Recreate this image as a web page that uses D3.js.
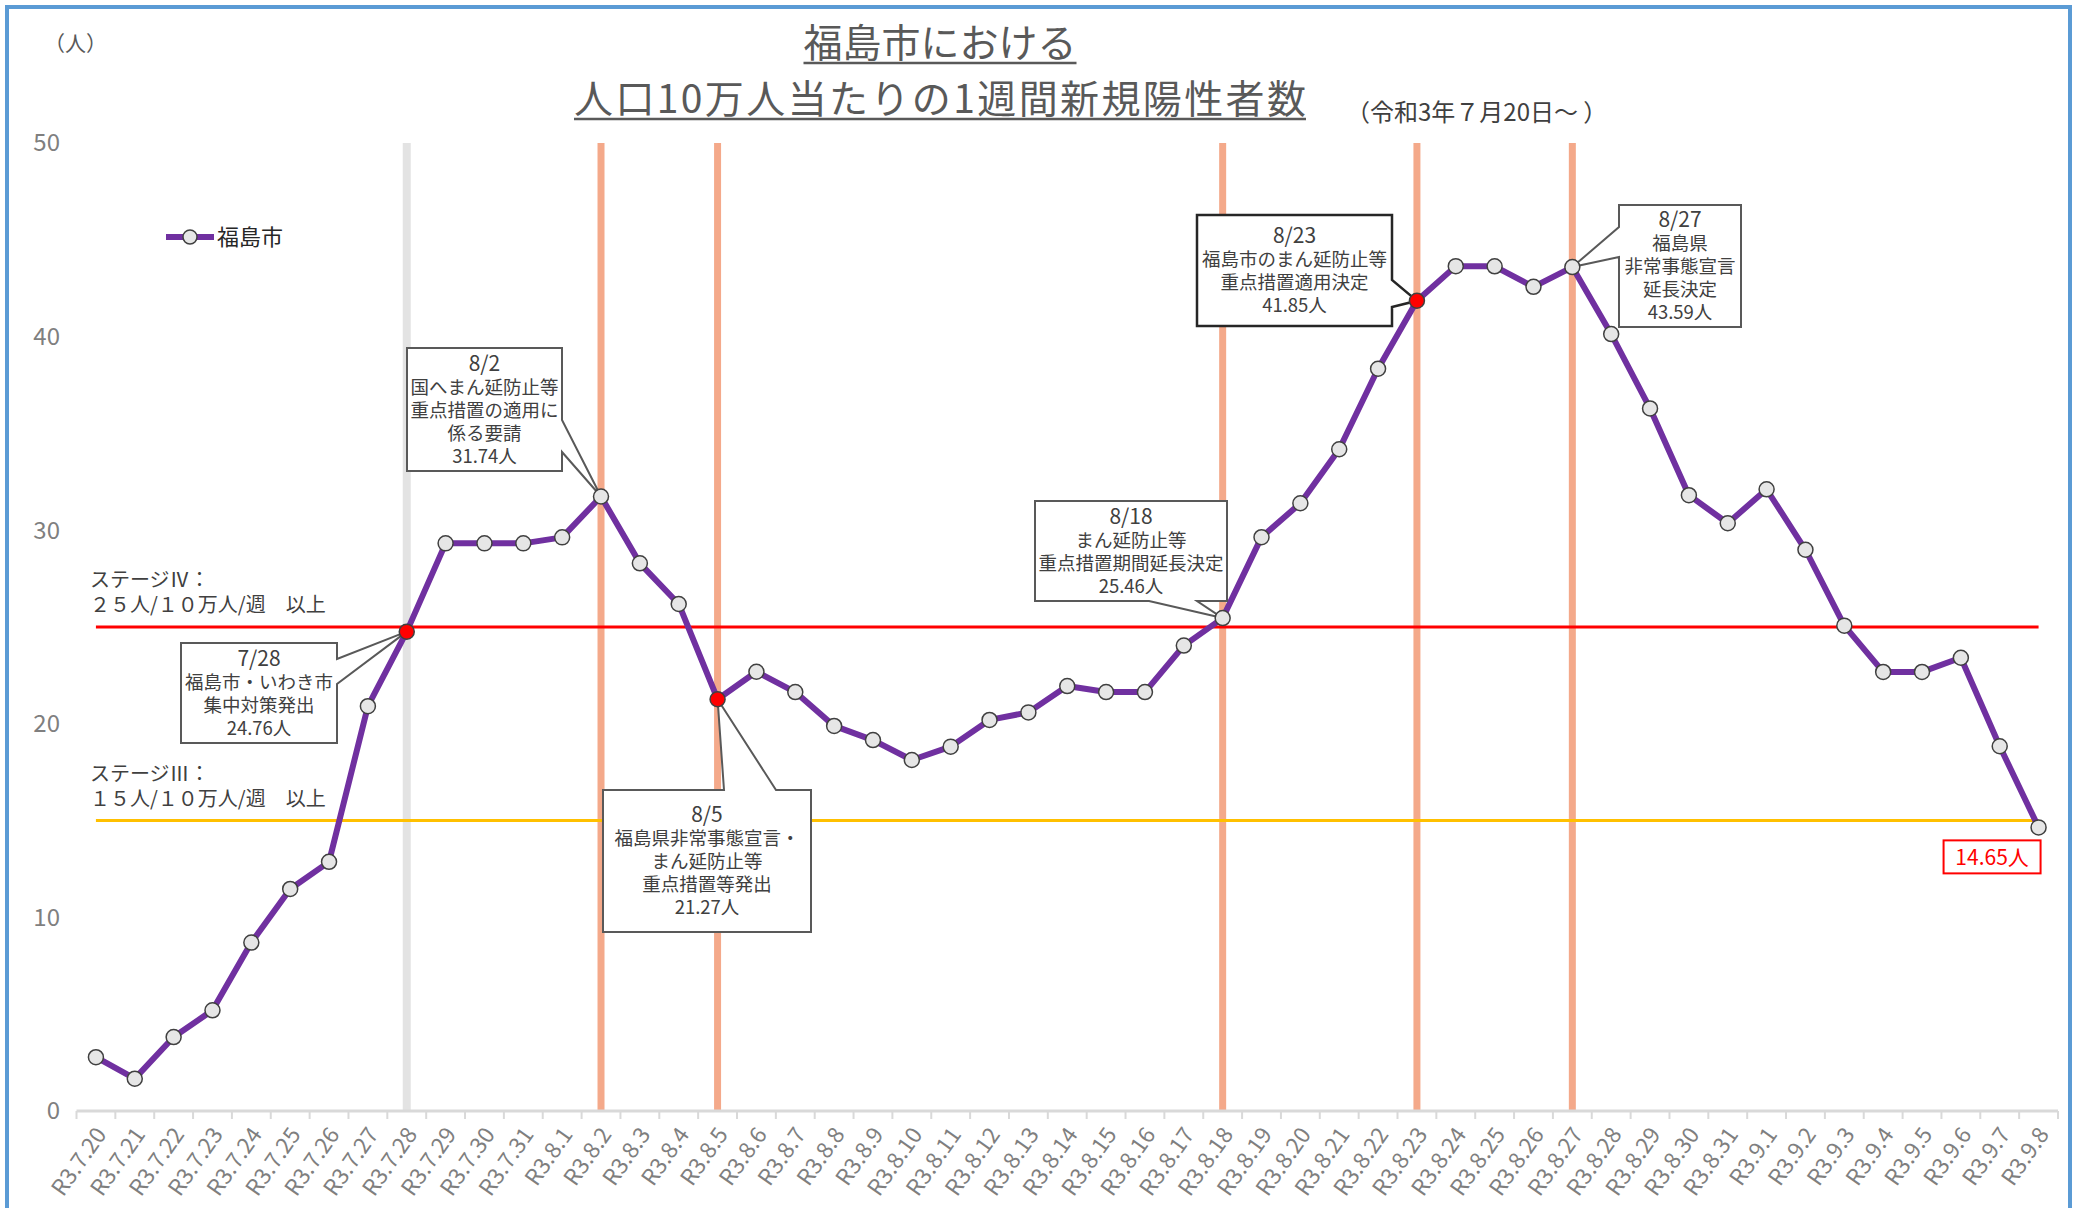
<!DOCTYPE html>
<html>
<head>
<meta charset="utf-8">
<script src="https://cdn.jsdelivr.net/npm/d3@7"></script>
<style>
  body { margin: 0; background: #fff; }
  svg { display: block; font-family: "Noto Sans CJK JP", "Noto Sans", sans-serif; }
</style>
</head>
<body>
<svg id="chart"></svg>
<script>
// categories (one per day)
var dates = ["R3.7.20","R3.7.21","R3.7.22","R3.7.23","R3.7.24","R3.7.25","R3.7.26","R3.7.27","R3.7.28","R3.7.29","R3.7.30","R3.7.31",
    "R3.8.1","R3.8.2","R3.8.3","R3.8.4","R3.8.5","R3.8.6","R3.8.7","R3.8.8","R3.8.9","R3.8.10",
    "R3.8.11","R3.8.12","R3.8.13","R3.8.14","R3.8.15","R3.8.16","R3.8.17","R3.8.18","R3.8.19","R3.8.20",
    "R3.8.21","R3.8.22","R3.8.23","R3.8.24","R3.8.25","R3.8.26","R3.8.27","R3.8.28","R3.8.29","R3.8.30","R3.8.31",
    "R3.9.1","R3.9.2","R3.9.3","R3.9.4","R3.9.5","R3.9.6","R3.9.7","R3.9.8"]

// 人口10万人当たりの1週間新規陽性者数
var values = [2.78, 1.67, 3.82, 5.20, 8.70, 11.47, 12.87, 20.91, 24.76, 29.32, 29.32, 29.32,
    29.63, 31.74, 28.29, 26.19, 21.27, 22.69, 21.64, 19.89, 19.16, 18.13,
    18.82, 20.20, 20.59, 21.95, 21.64, 21.64, 24.04, 25.46, 29.64, 31.39,
    34.18, 38.34, 41.85, 43.64, 43.63, 42.57, 43.59, 40.13, 36.29, 31.81, 30.36,
    32.11, 28.99, 25.07, 22.68, 22.68, 23.41, 18.84, 14.65]

var seriesName = "福島市"
var yTicks = [0, 10, 20, 30, 40, 50]

var redDates = ["R3.7.28", "R3.8.5", "R3.8.23"]
var grayLineDates = ["R3.7.28"]
var orangeLineDates = ["R3.8.2", "R3.8.5", "R3.8.18", "R3.8.23", "R3.8.27"]

var stageValues = [25, 15]
var stageNames = ["ステージⅣ：", "ステージⅢ："]
var stageTexts = ["２５人/１０万人/週　以上", "１５人/１０万人/週　以上"]

var calloutDates = ["R3.7.28", "R3.8.2", "R3.8.5", "R3.8.18", "R3.8.23", "R3.8.27"]
var calloutTexts = [
    ["7/28", "福島市・いわき市", "集中対策発出", "24.76人"],
    ["8/2", "国へまん延防止等", "重点措置の適用に", "係る要請", "31.74人"],
    ["8/5", "福島県非常事態宣言・", "まん延防止等", "重点措置等発出", "21.27人"],
    ["8/18", "まん延防止等", "重点措置期間延長決定", "25.46人"],
    ["8/23", "福島市のまん延防止等", "重点措置適用決定", "41.85人"],
    ["8/27", "福島県", "非常事態宣言", "延長決定", "43.59人"]
]
var lastLabel = "14.65人"

var titleLines = ["福島市における", "人口10万人当たりの1週間新規陽性者数"]
var subTitle = "（令和3年７月20日～ ）"
var unitLabel = "（人）"

drawChart()

function drawChart() {
    var dim = { width: 2074, height: 1208 }

    var svg = d3.select('#chart')
        .attr("width", dim.width)
        .attr("height", dim.height)

    // outer frame
    svg.append("rect")
        .attr("x", 7).attr("y", 7)
        .attr("width", 2063).attr("height", 1230)
        .attr("fill", "#fff")
        .attr("stroke", "#5b9bd5")
        .attr("stroke-width", 4)

    var xScale = d3.scaleBand()
        .domain(dates)
        .range([76.5, 2058])

    var yScale = d3.scaleLinear()
        .domain([0, 50])
        .range([1111, 143])

    var cx = d => xScale(d) + xScale.bandwidth() / 2
    var valueOf = d => values[dates.indexOf(d)]

    // title, two lines, underlined by hand
    var titleY = [57, 113]
    var titleLen = [null, 732]
    titleLines.forEach(function(t, i) {
        var ts = svg.append("text")
            .attr("x", 940)
            .attr("y", titleY[i])
            .attr("text-anchor", "middle")
            .attr("font-size", 39)
            .attr("fill", "#595959")
            .text(t)
        if (titleLen[i]) ts.attr("textLength", titleLen[i]).attr("lengthAdjust", "spacing")
        var len = titleLen[i] || ts.node().getComputedTextLength()
        var uy = titleY[i] + 6
        svg.append("line")
            .attr("x1", 940 - len / 2).attr("x2", 940 + len / 2)
            .attr("y1", uy).attr("y2", uy)
            .attr("stroke", "#595959").attr("stroke-width", 2.5)
    })
    svg.append("text")
        .attr("x", 1346).attr("y", 121)
        .attr("font-size", 24)
        .attr("fill", "#404040")
        .text(subTitle)

    svg.append("text")
        .attr("x", 44).attr("y", 51)
        .attr("font-size", 21)
        .attr("fill", "#595959")
        .text(unitLabel)

    // y labels
    svg.append("g").selectAll("text")
        .data(yTicks).enter()
        .append("text")
        .attr("x", 60)
        .attr("y", d => yScale(d))
        .attr("dy", "0.35em")
        .attr("text-anchor", "end")
        .attr("font-size", 24)
        .attr("fill", "#7f7f7f")
        .text(d => d)

    // vertical event lines
    svg.append("g").selectAll("line")
        .data(grayLineDates).enter()
        .append("line")
        .attr("x1", d => cx(d)).attr("x2", d => cx(d))
        .attr("y1", yScale(50)).attr("y2", yScale(0))
        .attr("stroke", "#e3e3e3").attr("stroke-width", 8)

    svg.append("g").selectAll("line")
        .data(orangeLineDates).enter()
        .append("line")
        .attr("x1", d => cx(d)).attr("x2", d => cx(d))
        .attr("y1", yScale(50)).attr("y2", yScale(0))
        .attr("stroke", "#f4a98a").attr("stroke-width", 7)

    // x axis
    var xAxis = d3.axisBottom(xScale).tickSize(0).tickPadding(0)
    var gx = svg.append("g")
        .attr("class", "x-axis")
        .attr("transform", "translate(0," + yScale(0) + ")")
        .call(xAxis)
    gx.select(".domain").remove()
    gx.selectAll("text")
        .attr("y", 0).attr("dy", "0.35em")
        .attr("text-anchor", "end")
        .attr("transform", "translate(5,19) rotate(-55)")
        .attr("font-family", "'Noto Sans CJK JP', sans-serif")
        .attr("font-size", 22.5)
        .attr("fill", "#7f7f7f")

    svg.append("line")
        .attr("x1", xScale.range()[0]).attr("x2", xScale.range()[1])
        .attr("y1", yScale(0)).attr("y2", yScale(0))
        .attr("stroke", "#d9d9d9").attr("stroke-width", 3)

    svg.append("g").selectAll("line")
        .data(dates.concat(["end"])).enter()
        .append("line")
        .attr("x1", d => d == "end" ? xScale.range()[1] : xScale(d))
        .attr("x2", d => d == "end" ? xScale.range()[1] : xScale(d))
        .attr("y1", yScale(0)).attr("y2", yScale(0) + 8)
        .attr("stroke", "#d9d9d9").attr("stroke-width", 2)

    // stage threshold lines
    var stageColors = ["#ff0000", "#ffc000"]
    stageValues.forEach(function(v, i) {
        svg.append("line")
            .attr("x1", cx(dates[0])).attr("x2", cx(dates[dates.length - 1]))
            .attr("y1", yScale(v)).attr("y2", yScale(v))
            .attr("stroke", stageColors[i]).attr("stroke-width", 3)
        var st = svg.append("text")
            .attr("y", yScale(v) - 47)
            .attr("font-size", 20).attr("fill", "#404040")
        st.append("tspan").attr("x", 90).attr("dy", "0.35em").text(stageNames[i])
        st.append("tspan").attr("x", 90).attr("dy", 25).text(stageTexts[i])
    })

    // data line
    var line = d3.line()
        .x(d => cx(d))
        .y(d => yScale(valueOf(d)))

    svg.append("path")
        .datum(dates)
        .attr("d", line)
        .attr("fill", "none")
        .attr("stroke", "#7030a0")
        .attr("stroke-width", 6)
        .attr("stroke-linejoin", "round")

    // callouts
    var boxes = [
        { x0: 181, y0: 643, x1: 337, y1: 743, side: "right", a: 659, b: 684 },
        { x0: 407, y0: 348, x1: 562, y1: 471, side: "right", a: 420, b: 452 },
        { x0: 603, y0: 790, x1: 811, y1: 932, side: "top", a: 724, b: 776 },
        { x0: 1035, y0: 501, x1: 1227, y1: 601, side: "bottom", a: 1149, b: 1197 },
        { x0: 1197, y0: 215, x1: 1392, y1: 326, side: "right", a: 280, b: 307 },
        { x0: 1619, y0: 205, x1: 1741, y1: 327, side: "left", a: 227, b: 257 }
    ]

    function calloutPath(b, tx, ty) {
        if (b.side == "right")
            return `M${b.x0},${b.y0}H${b.x1}V${b.a}L${tx},${ty}L${b.x1},${b.b}V${b.y1}H${b.x0}Z`
        if (b.side == "left")
            return `M${b.x0},${b.y0}H${b.x1}V${b.y1}H${b.x0}V${b.b}L${tx},${ty}L${b.x0},${b.a}Z`
        if (b.side == "top")
            return `M${b.x0},${b.y0}H${b.a}L${tx},${ty}L${b.b},${b.y0}H${b.x1}V${b.y1}H${b.x0}Z`
        return `M${b.x0},${b.y0}H${b.x1}V${b.y1}H${b.b}L${tx},${ty}L${b.a},${b.y1}H${b.x0}Z`
    }

    calloutDates.forEach(function(d, i) {
        var b = boxes[i]
        var tx = cx(d), ty = yScale(valueOf(d))
        svg.append("path")
            .attr("d", calloutPath(b, tx, ty))
            .attr("fill", "#fff")
            .attr("stroke", d == "R3.8.23" ? "#262626" : "#595959")
            .attr("stroke-width", d == "R3.8.23" ? 2.5 : 2)
            .attr("stroke-linejoin", "miter")
        var lines = calloutTexts[i]
        var lh = 23
        var top = (b.y0 + b.y1) / 2 - (lines.length - 1) * lh / 2
        var mid = (b.x0 + b.x1) / 2
        svg.append("text")
            .attr("y", top)
            .attr("text-anchor", "middle")
            .attr("fill", "#404040")
            .selectAll("tspan")
            .data(lines).enter()
            .append("tspan")
            .attr("x", mid)
            .attr("dy", (t, j) => j == 0 ? "0.35em" : lh)
            .attr("font-size", (t, j) => j == 0 ? 21 : 18.5)
            .text(t => t)
    })

    // markers
    svg.append("g").selectAll("circle")
        .data(dates).enter()
        .append("circle")
        .attr("cx", d => cx(d))
        .attr("cy", d => yScale(valueOf(d)))
        .attr("r", 7.5)
        .attr("fill", d => redDates.indexOf(d) >= 0 ? "#ff0000" : "#e6e6e6")
        .attr("stroke", "#404040")
        .attr("stroke-width", 1.5)

    // last value label
    var lastD = dates[dates.length - 1]
    var lx = cx(lastD), ly = yScale(valueOf(lastD))
    svg.append("rect")
        .attr("x", lx - 95).attr("y", ly + 13)
        .attr("width", 97).attr("height", 33)
        .attr("fill", "#fff")
        .attr("stroke", "#ff0000").attr("stroke-width", 2)
    svg.append("text")
        .attr("x", lx - 46.5).attr("y", ly + 30).attr("dy", "0.35em")
        .attr("text-anchor", "middle")
        .attr("font-size", 21)
        .attr("fill", "#ff0000")
        .text(lastLabel)

    // legend
    var lg = svg.append("g")
    lg.append("line")
        .attr("x1", 166).attr("x2", 214)
        .attr("y1", 237).attr("y2", 237)
        .attr("stroke", "#7030a0").attr("stroke-width", 6)
    lg.append("circle")
        .attr("cx", 190).attr("cy", 237).attr("r", 7)
        .attr("fill", "#e6e6e6").attr("stroke", "#404040").attr("stroke-width", 1.5)
    lg.append("text")
        .attr("x", 217).attr("y", 237).attr("dy", "0.35em")
        .attr("font-size", 22).attr("fill", "#262626")
        .text(seriesName)
}
</script>
</body>
</html>
